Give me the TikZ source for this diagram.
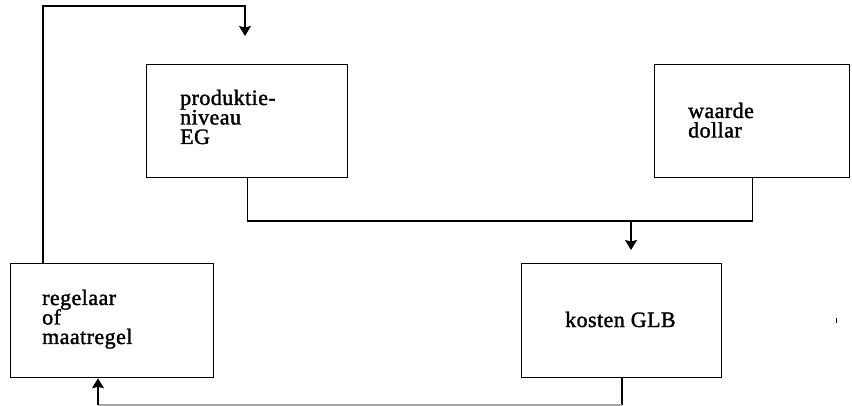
\documentclass[tikz,border=0pt]{standalone}
\usepackage{fontspec}
\setmainfont{Liberation Serif}[LetterSpace=2,FakeBold=1.5]
\usetikzlibrary{arrows.meta}
\newcommand{\stacklines}[1]{\vtop{\baselineskip=19.5pt\lineskip=0pt\lineskiplimit=-100pt #1}}
\begin{document}
\begin{tikzpicture}[x=1pt,y=-1pt,
  box/.style={draw,line width=1.3pt,inner sep=0pt,anchor=north west},
  txt/.style={inner sep=0pt,anchor=base west,font=\fontsize{22pt}{19.5pt}\selectfont},
  conn/.style={line width=1.1pt},
  arr/.style={conn,-{Stealth[length=10pt,width=12pt,inset=1.5pt]}}]
\useasboundingbox (0,0) rectangle (852,406);
% boxes
\node[box,minimum width=201pt,minimum height=113pt] (prod) at (146,64) {};
\node[box,minimum width=195pt,minimum height=113pt] (waar) at (654,64) {};
\node[box,minimum width=203pt,minimum height=114pt] (reg) at (10,263) {};
\node[box,minimum width=200pt,minimum height=114pt] (kost) at (521,263) {};
% texts
\node[txt] (tprod) at (180,105) {\stacklines{\hbox{produktie-}\hbox{niveau}\hbox{EG}}};
\node[txt] (twaar) at (688,118) {\stacklines{\hbox{waarde}\hbox{dollar}}};
\node[txt] (treg) at (42,305) {\stacklines{\hbox{regelaar}\hbox{of}\hbox{maatregel}}};
\node[txt] (tkost) at (565,327) {kosten GLB};
% connector coordinates
\coordinate (mid) at (631,221);
\coordinate (tipK) at (631,250);
\coordinate (t1) at (43,6);
\coordinate (tipP) at (245,36);
\coordinate (b1) at (622,405);
\coordinate (b2) at (98,405);
% produktie + waarde -> kosten
\draw[conn] (prod.south) |- (mid) -| (waar.south);
\draw[arr] (mid) -- (tipK);
% regelaar -> produktie (feedback top)
\draw[arr] (t1 |- reg.north) -- (t1) -| (tipP);
% kosten -> regelaar (bottom)
\draw[conn] (b1 |- kost.south) -- (b1);
\draw[conn,black!35] (b1) -- (b2);
\draw[arr] (b2) -- (b2 |- reg.south);
% small mark
\draw[line width=1pt] (836,318) -- (836,323);
\end{tikzpicture}
\end{document}
